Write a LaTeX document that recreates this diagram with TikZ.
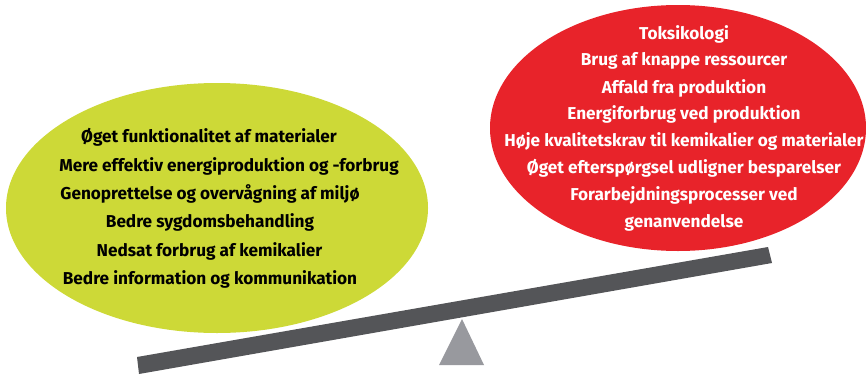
\documentclass[tikz,border=0pt]{standalone}
\usepackage{fontspec}
\setmainfont{Fira Sans}
\usetikzlibrary{shapes.geometric}
\definecolor{limegreen}{RGB}{205,217,55}
\definecolor{signalred}{RGB}{232,35,42}
\definecolor{beamgray}{RGB}{84,85,88}
\definecolor{pivotgray}{RGB}{152,153,158}
\tikzset{
  blob/.style={ellipse, inner sep=0pt},
  goodline/.style={anchor=base, inner sep=0pt, text=black, font=\fontsize{17.2}{19}\selectfont\bfseries},
  badline/.style={anchor=base, inner sep=0pt, text=white, font=\fontsize{17.2}{19}\selectfont\bfseries},
}
\begin{document}
\begin{tikzpicture}[x=1pt,y=-1pt]
\useasboundingbox (0,0) rectangle (866,375);
% ellipses
\node[blob, fill=limegreen, minimum width=422pt, minimum height=250pt] (good) at (217,208) {};
\node[blob, fill=signalred, minimum width=376pt, minimum height=246pt] (bad) at (678,128) {};
% beam and pivot
\fill[beamgray] (137,357) -- (768,247) -- (772,263) -- (139,374) -- cycle;
\fill[pivotgray] (462,319) -- (484,365) -- (439,365) -- cycle;
% green texts
\node[goodline] (g1) at (209,142.7) {Øget funktionalitet af materialer};
\node[goodline] (g2) at (229,171) {Mere effektiv energiproduktion og -forbrug};
\node[goodline] (g3) at (210,199.3) {Genoprettelse og overvågning af miljø};
\node[goodline] (g4) at (210,227.7) {Bedre sygdomsbehandling};
\node[goodline] (g5) at (209.5,256) {Nedsat forbrug af kemikalier};
\node[goodline] (g6) at (210,284.3) {Bedre information og kommunikation};
% red texts
\node[badline] (r1) at (684,39) {Toksikologi};
\node[badline] (r2) at (684,65.7) {Brug af knappe ressourcer};
\node[badline] (r3) at (684,93.3) {Affald fra produktion};
\node[badline] (r4) at (684,119.3) {Energiforbrug ved produktion};
\node[badline] (r5) at (684,146) {Høje kvalitetskrav til kemikalier og materialer};
\node[badline] (r6) at (684,173.3) {Øget efterspørgsel udligner besparelser};
\node[badline] (r7) at (684,200) {Forarbejdningsprocesser ved};
\node[badline] (r8) at (684,227.3) {genanvendelse};
\end{tikzpicture}
\end{document}
